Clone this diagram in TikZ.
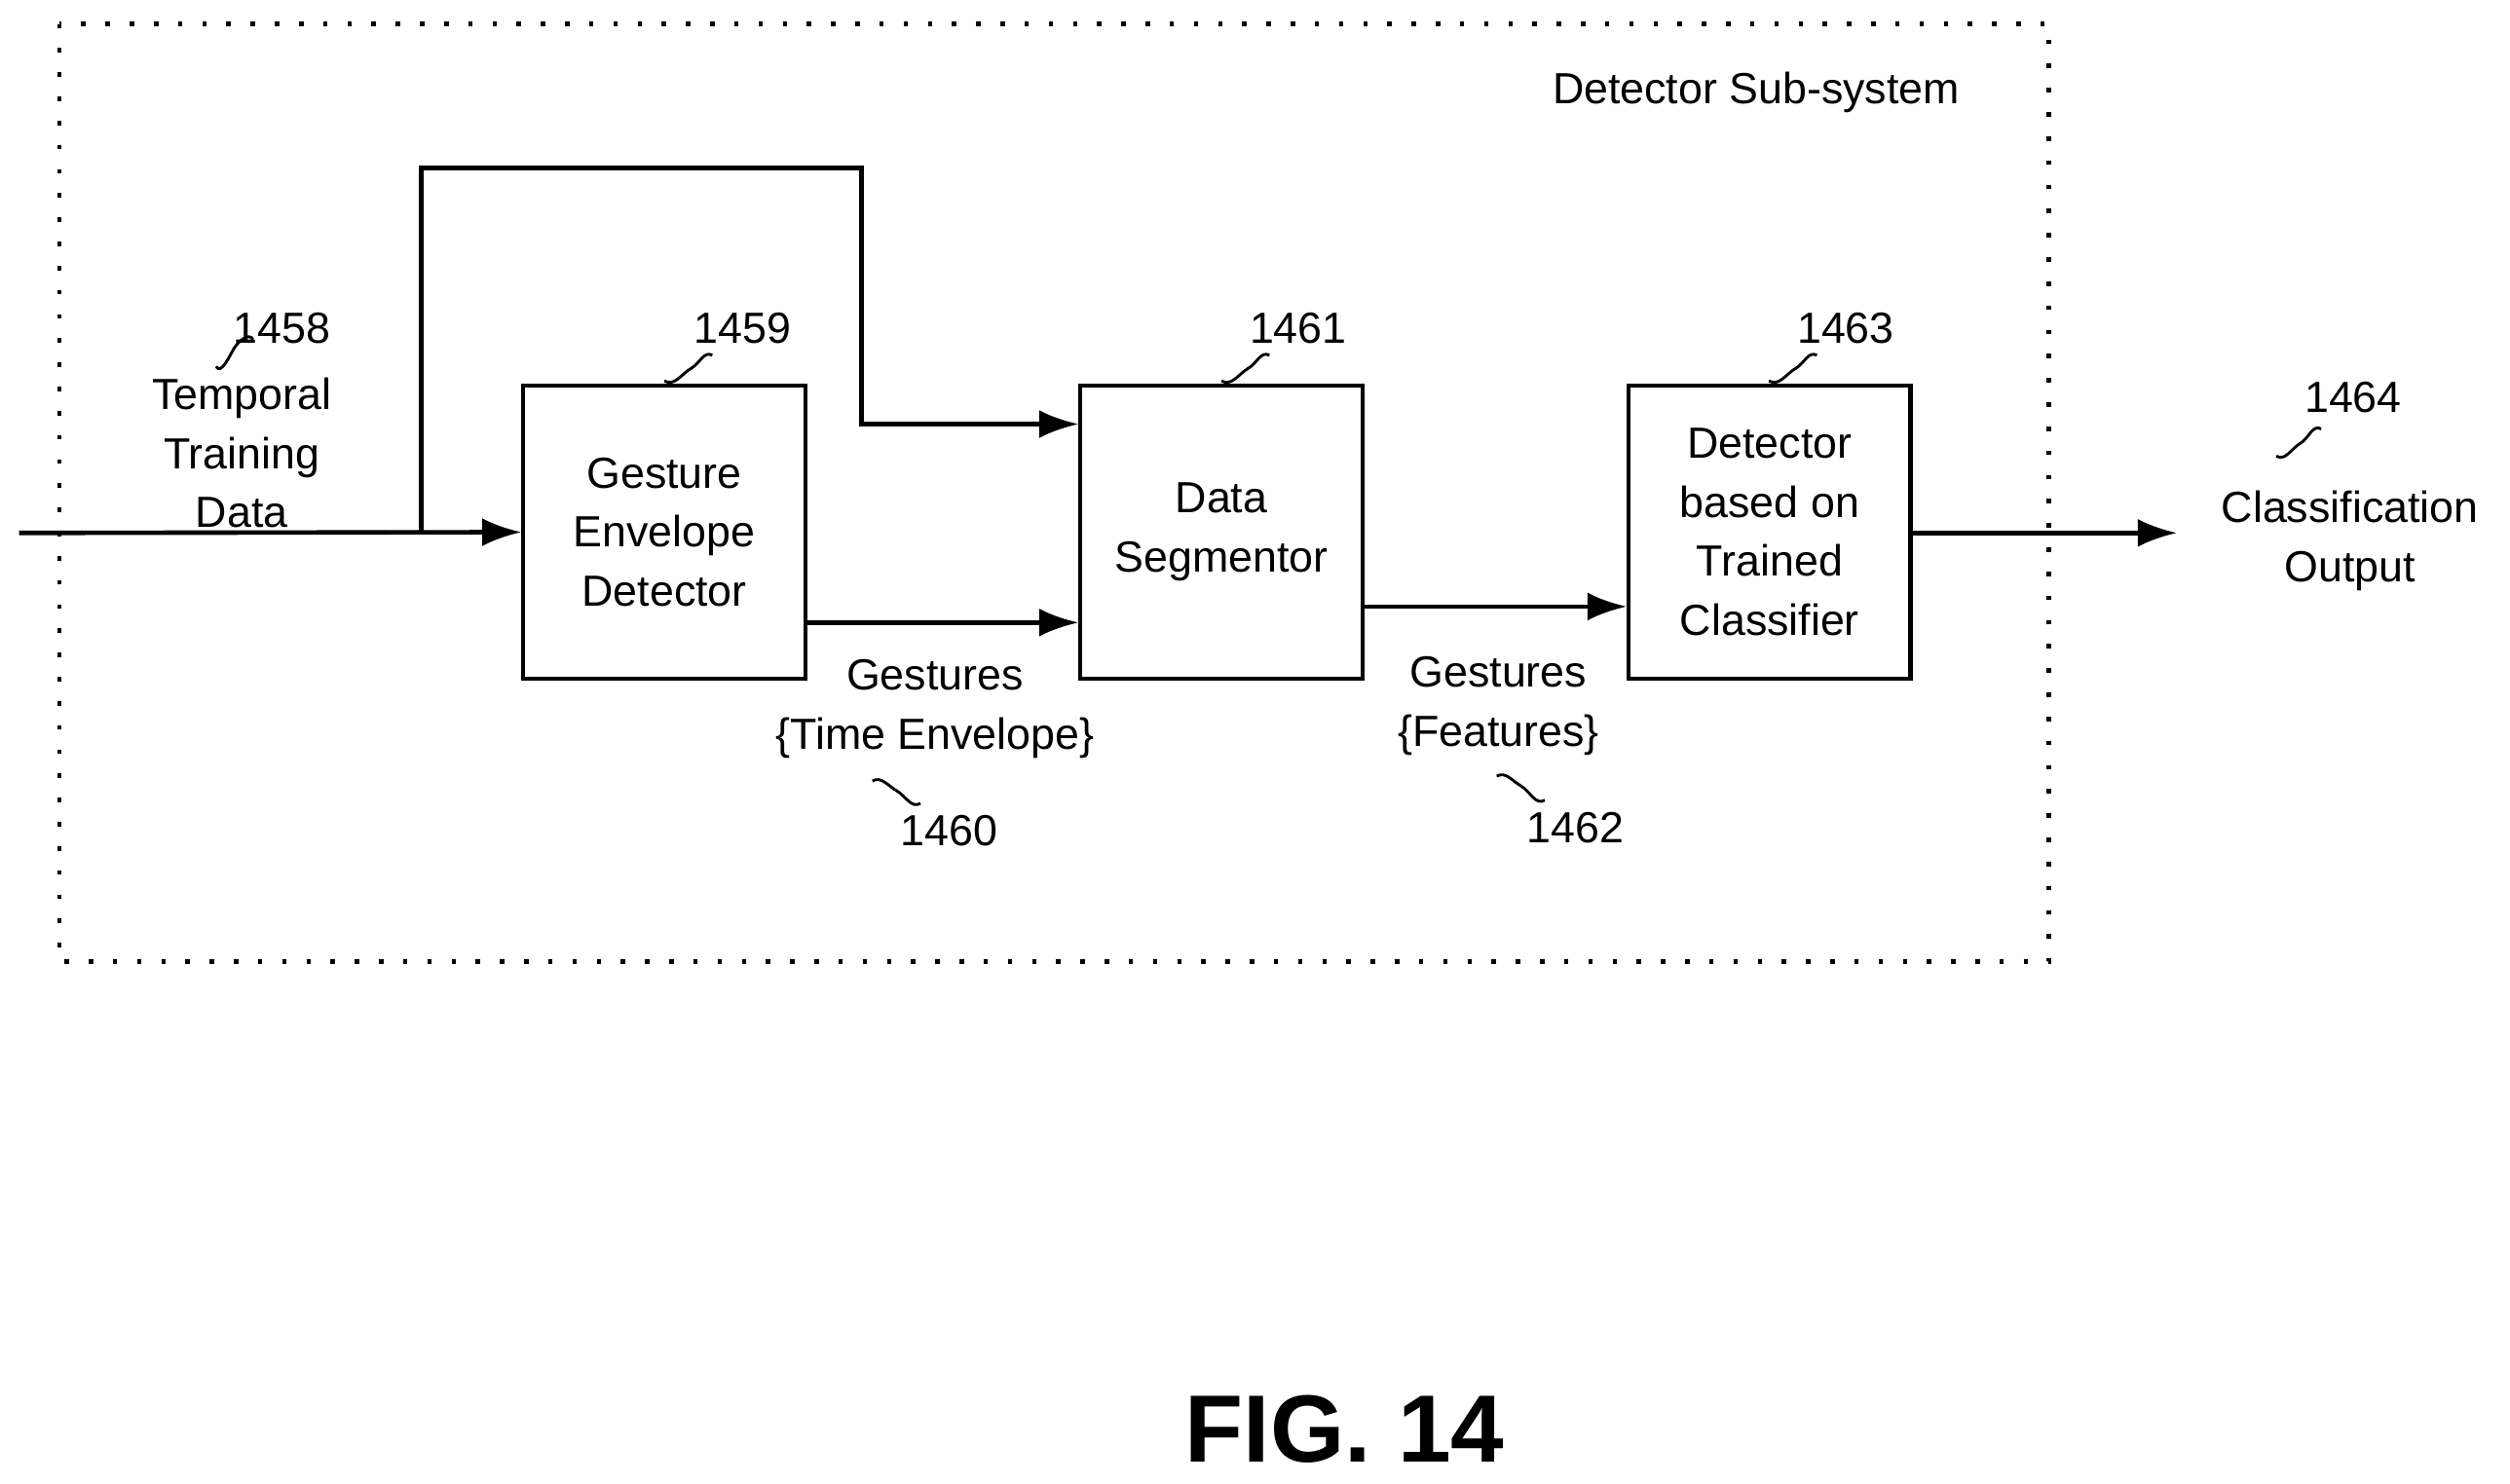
\documentclass[tikz,border=0pt]{standalone}
\usepackage{fontspec}
\setmainfont{Liberation Sans}
\usetikzlibrary{positioning,arrows.meta}
\begin{document}
\begin{tikzpicture}[x=0.02cm,y=-0.02cm,>={Latex[length=14pt,width=10pt]},
    blk/.style={draw,line width=1.4pt,minimum width=3.52cm,minimum height=3.66cm,
      align=center,font=\fontsize{15.5}{21}\selectfont},
    lbl/.style={align=center,font=\fontsize{15.5}{21}\selectfont},
    wire/.style={line width=1.6pt},
    sq/.style={line width=1pt}]
    \useasboundingbox (0,0) rectangle (1568,927);
    \draw[line width=1.6pt,dotted,dash pattern=on 1.6pt off 7pt] (37,15) rectangle (1280,601);
    \node[lbl] (sub) at (1097,58) {Detector Sub-system};
    % blocks
    \node[blk] (ged) at (415,332.5) {Gesture\\Envelope\\Detector};
    \node[blk] (seg) at (763,332.5) {Data\\Segmentor};
    \node[blk] (det) at (1105.5,332.5) {Detector\\based on\\Trained\\Classifier};
    % connectors
    \coordinate (in) at (12,333);
    \coordinate (br) at (263,333);
    \coordinate (out) at (1360,333);
    \draw[wire,->] (in) -- (ged.west);
    \draw[wire,->] (br) -- (263,105) -- (538,105) -- (538,265) -- (seg.west |- 0,265);
    \draw[wire,->] (ged.east |- 0,389) -- (seg.west |- 0,389);
    \draw[wire,->] (seg.east |- 0,379) -- (det.west |- 0,379);
    \draw[wire,->] (det.east |- out) -- (out);
    % labels
    \node[lbl] (ttd) at (151,283) {Temporal\\Training\\Data};
    \node[lbl] (cls) at (1468,338) {Classification\\Output};
    \node[lbl] (gte) at (584,443) {Gestures\\\{Time Envelope\}};
    \node[lbl] (gft) at (936,441) {Gestures\\\{Features\}};
    \node[lbl] (n58) at (176,205) {1458};
    \node[lbl] (n59) at (464,205) {1459};
    \node[lbl] (n61) at (811,205) {1461};
    \node[lbl] (n63) at (1153,205) {1463};
    \node[lbl] (n64) at (1470,248) {1464};
    \node[lbl] (n60) at (593,519) {1460};
    \node[lbl] (n62) at (984,517) {1462};
    % squiggles
    \draw[sq] (135,229) to[out=-60,in=-120] (146,218) to[out=60,in=120] (158,212);
    \draw[sq] (415,238) to[out=-30,in=-150] (432,230) to[out=30,in=150] (445,222);
    \draw[sq] (763,238) to[out=-30,in=-150] (780,230) to[out=30,in=150] (793,222);
    \draw[sq] (1105,238) to[out=-30,in=-150] (1122,230) to[out=30,in=150] (1135,222);
    \draw[sq] (1422,285) to[out=-30,in=-150] (1437,277) to[out=30,in=150] (1450,268);
    \draw[sq] (545,488) to[out=30,in=150] (560,494) to[out=-30,in=-150] (575,502);
    \draw[sq] (935,485) to[out=30,in=150] (950,491) to[out=-30,in=-150] (965,500);
    \node[font=\fontsize{34}{40}\selectfont\bfseries] (fig) at (840,893) {FIG. 14};
\end{tikzpicture}
\end{document}
